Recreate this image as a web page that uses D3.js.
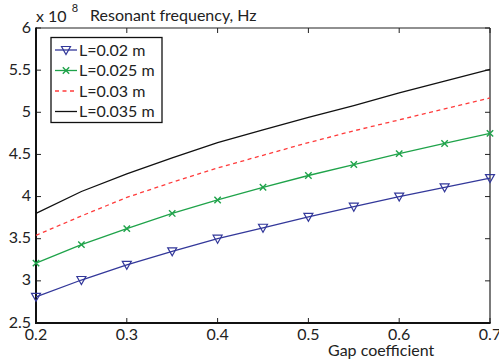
<!DOCTYPE html>
<html><head><meta charset="utf-8">
<script src="https://cdn.jsdelivr.net/npm/d3@7"></script>
<style>body{margin:0;background:#fff;}svg{display:block;font-family:Lato,"Open Sans",sans-serif;}</style>
</head><body><svg id="c" width="499" height="360"></svg>
<script>
const gap = [0.2,0.25,0.3,0.35,0.4,0.45,0.5,0.55,0.6,0.65,0.7];
const fL020 = [2.81,3.01,3.19,3.35,3.50,3.63,3.76,3.88,4.00,4.11,4.22];
const fL025 = [3.21,3.43,3.62,3.80,3.96,4.11,4.25,4.38,4.51,4.63,4.75];
const fL030 = [3.54,3.77,3.99,4.17,4.34,4.49,4.64,4.78,4.91,5.04,5.17];
const fL035 = [3.80,4.06,4.27,4.46,4.64,4.79,4.94,5.08,5.23,5.37,5.51];
const seriesNames = ["L=0.02 m","L=0.025 m","L=0.03 m","L=0.035 m"];
const xTicks = [0.2,0.3,0.4,0.5,0.6,0.7];
const yTicks = [2.5,3,3.5,4,4.5,5,5.5,6];
const xLabel = "Gap coefficient";
const yLabel = "Resonant frequency, Hz";

const series = [
  {name:seriesNames[0], vals:fL020, color:"#33389a", dash:null, marker:"tri"},
  {name:seriesNames[1], vals:fL025, color:"#1fa34a", dash:null, marker:"x"},
  {name:seriesNames[2], vals:fL030, color:"#ff3b3b", dash:"4,3.5", marker:null},
  {name:seriesNames[3], vals:fL035, color:"#111111", dash:null, marker:null}
];

const svg = d3.select("#c");
const L=36, R=490, T=28, B=323;
const x = d3.scaleLinear().domain([0.2,0.7]).range([L,R]);
const y = d3.scaleLinear().domain([2.5,6]).range([B,T]);
const fs = 16;

const tl = 5;
const g = svg.append("g");
xTicks.forEach(t=>{
  g.append("line").attr("x1",x(t)).attr("x2",x(t)).attr("y1",B).attr("y2",B-tl).attr("stroke","#222").attr("stroke-width",1);
  g.append("line").attr("x1",x(t)).attr("x2",x(t)).attr("y1",T).attr("y2",T+tl).attr("stroke","#222").attr("stroke-width",1);
  g.append("text").attr("x",x(t)).attr("y",B+17).attr("text-anchor","middle").attr("font-size",fs).attr("fill","#222").text(d3.format(".1f")(t));
});
yTicks.forEach(t=>{
  g.append("line").attr("x1",L).attr("x2",L+tl).attr("y1",y(t)).attr("y2",y(t)).attr("stroke","#222").attr("stroke-width",1);
  g.append("line").attr("x1",R).attr("x2",R-tl).attr("y1",y(t)).attr("y2",y(t)).attr("stroke","#222").attr("stroke-width",1);
  g.append("text").attr("x",L-5).attr("y",y(t)+4.5).attr("text-anchor","end").attr("font-size",fs).attr("fill","#222").text(t);
});
g.append("line").attr("x1",L).attr("x2",R).attr("y1",T).attr("y2",T).attr("stroke","#222").attr("stroke-width",1.2);
g.append("line").attr("x1",R).attr("x2",R).attr("y1",T).attr("y2",B).attr("stroke","#222").attr("stroke-width",1.2);
g.append("line").attr("x1",L).attr("x2",R+0.6).attr("y1",B).attr("y2",B).attr("stroke","#111").attr("stroke-width",2);
g.append("line").attr("x1",L).attr("x2",L).attr("y1",T-0.6).attr("y2",B+1).attr("stroke","#111").attr("stroke-width",2);

const ex = svg.append("text").attr("x",L).attr("y",22).attr("font-size",fs).attr("fill","#222");
ex.append("tspan").text("x 10");
ex.append("tspan").attr("dy",-10).attr("dx",5).attr("font-size",11).text("8");
svg.append("text").attr("x",90).attr("y",21).attr("font-size",fs).attr("fill","#222").text(yLabel);
svg.append("text").attr("x",328).attr("y",356).attr("font-size",fs).attr("fill","#222").text(xLabel);

const line = d3.line().x((d,i)=>x(gap[i])).y(d=>y(d));
function marker(sel, type, cx, cy, color){
  if(type==="tri"){
    sel.append("path").attr("d",`M${cx-4.5},${cy-3.5}L${cx+4.5},${cy-3.5}L${cx},${cy+4.5}Z`).attr("fill","none").attr("stroke",color).attr("stroke-width",1.2);
  } else if(type==="x"){
    const s=3.2;
    sel.append("path").attr("d",`M${cx-s},${cy-s}L${cx+s},${cy+s}M${cx-s},${cy+s}L${cx+s},${cy-s}`).attr("stroke",color).attr("stroke-width",1.4);
  }
}
const plot = svg.append("g");
series.forEach(s=>{
  plot.append("path").datum(s.vals).attr("d",line).attr("fill","none").attr("stroke",s.color).attr("stroke-width",1.3).attr("stroke-dasharray",s.dash);
  if(s.marker) s.vals.forEach((v,i)=>marker(plot,s.marker,x(gap[i]),y(v),s.color));
});

const lg = svg.append("g");
lg.append("rect").attr("x",51).attr("y",37.5).attr("width",111).attr("height",85).attr("fill","#fff").attr("stroke","#111").attr("stroke-width",1.3);
series.forEach((s,i)=>{
  const yy = 50 + i*20.5;
  lg.append("line").attr("x1",55).attr("x2",77).attr("y1",yy).attr("y2",yy).attr("stroke",s.color).attr("stroke-width",1.3).attr("stroke-dasharray",s.dash);
  if(s.marker) marker(lg,s.marker,66,yy,s.color);
  lg.append("text").attr("x",79).attr("y",yy+5.5).attr("font-size",fs).attr("fill","#222").text(s.name);
});
</script></body></html>
